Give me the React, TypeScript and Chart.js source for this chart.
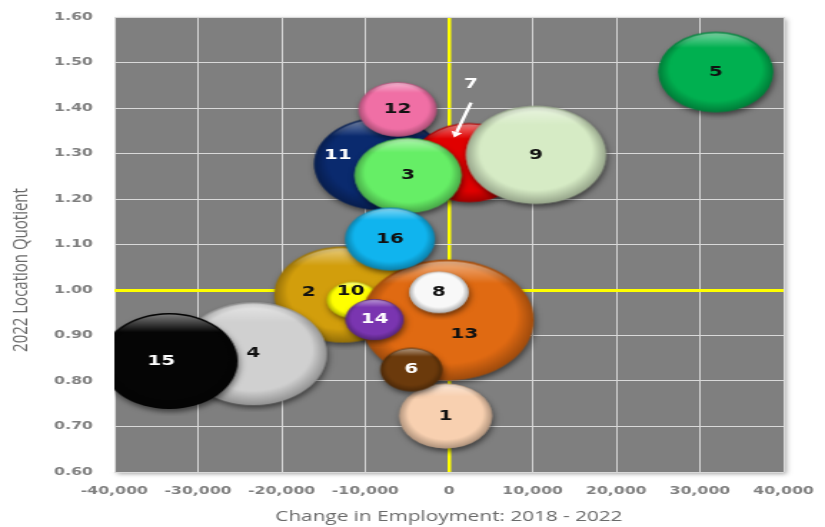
import React, { useEffect, useRef } from 'react';
import { Chart, registerables } from 'chart.js';

Chart.register(...registerables);

// ---- data (listed in drawing order: later bubbles are drawn on top) ----
const bubbleIds = ['2', '4', '15', '10', '13', '14', '8', '1', '6', '11', '12', '7', '9', '3', '16', '5'];
const employmentChange = [-12700, -23400, -33450, -11500, -200, -8900, -1200, -400, -4500, -8250, -6150, 2400, 10400, -4900, -7050, 31900];
const locationQuotient = [0.99, 0.86, 0.844, 0.978, 0.934, 0.935, 0.995, 0.723, 0.825, 1.277, 1.397, 1.28, 1.297, 1.252, 1.112, 1.479];
const bubbleSize = [132, 152, 132, 19, 210, 24, 25, 61, 27, 122, 43, 90, 138, 81, 57, 93];

const xTickValues = [-40000, -30000, -20000, -10000, 0, 10000, 20000, 30000, 40000];
const yTickValues = [0.6, 0.7, 0.8, 0.9, 1.0, 1.1, 1.2, 1.3, 1.4, 1.5, 1.6];

const xTitle = 'Change in Employment: 2018 - 2022';
const yTitle = '2022 Location Quotient';

// ---- styles ----
const bubbleColors: Record<string, string> = {
  '1': '#F8D0B0', '2': '#D29E0C', '3': '#66EE66', '4': '#D0D0D0', '5': '#00B050', '6': '#6B3A0C',
  '7': '#E00000', '8': '#F8F8F8', '9': '#D6EBC5', '10': '#FFFF00', '11': '#0A2A6E', '12': '#F06FA5',
  '13': '#E06A12', '14': '#7A35B0', '15': '#050505', '16': '#10B4EE',
};
const whiteLabels = new Set(['6', '11', '14', '15']);
// label offsets in on-screen pixels
const labelOffsets: Record<string, [number, number]> = {
  '2': [-34, -2], '10': [-2, -9], '13': [17, 14], '11': [-42, -9], '15': [-8, 0],
};

const CSS_W = 825;
const CSS_H = 527;
const CANVAS_W = 577;
const SX = CSS_W / CANVAS_W;

const radiusOf = (size: number) => 59 * Math.sqrt(size / 200);

function makeBall(color: string, r: number): HTMLCanvasElement {
  const pad = 7;
  const size = Math.ceil(2 * r + 2 * pad);
  const c = document.createElement('canvas');
  c.width = size;
  c.height = size;
  const g = c.getContext('2d')!;
  const cx = size / 2;
  const cy = size / 2;
  g.save();
  g.shadowColor = 'rgba(0,0,0,0.5)';
  g.shadowBlur = 5;
  g.shadowOffsetX = 1;
  g.shadowOffsetY = 3;
  g.beginPath();
  g.arc(cx, cy, r, 0, Math.PI * 2);
  g.fillStyle = color;
  g.fill();
  g.restore();
  // darker rim
  const rim = g.createRadialGradient(cx, cy - r * 0.08, r * 0.8, cx, cy, r * 1.02);
  rim.addColorStop(0, 'rgba(0,0,0,0)');
  rim.addColorStop(1, 'rgba(0,0,0,0.32)');
  g.beginPath();
  g.arc(cx, cy, r, 0, Math.PI * 2);
  g.fillStyle = rim;
  g.fill();
  // top highlight
  const hl = g.createLinearGradient(0, cy - r, 0, cy - r * 0.6);
  hl.addColorStop(0, 'rgba(255,255,255,0.5)');
  hl.addColorStop(1, 'rgba(255,255,255,0)');
  g.beginPath();
  g.arc(cx, cy, r * 0.97, 0, Math.PI * 2);
  g.fillStyle = hl;
  g.fill();
  return c;
}

const backgroundPlugin = {
  id: 'plotBackground',
  beforeDraw(chart: any) {
    const { ctx, chartArea: a } = chart;
    ctx.save();
    ctx.fillStyle = '#ffffff';
    ctx.fillRect(0, 0, chart.width, chart.height);
    ctx.shadowColor = 'rgba(0,0,0,0.35)';
    ctx.shadowBlur = 4;
    ctx.shadowOffsetX = 2;
    ctx.shadowOffsetY = 2;
    ctx.fillStyle = '#7F7F7F';
    ctx.fillRect(a.left, a.top, a.right - a.left, a.bottom - a.top);
    ctx.restore();
  },
  beforeDatasetDraw(chart: any) {
    const { ctx, chartArea: a } = chart;
    ctx.save();
    ctx.beginPath();
    ctx.rect(a.left, a.top, a.right - a.left, a.bottom - a.top);
    ctx.clip();
  },
  afterDatasetDraw(chart: any) {
    chart.ctx.restore();
  },
  afterDatasetsDraw(chart: any) {
    // keep the left margin clean where a bubble runs past the plot edge
    const { ctx, chartArea: a } = chart;
    ctx.save();
    ctx.fillStyle = '#ffffff';
    ctx.fillRect(0, a.top, a.left, a.bottom - a.top);
    ctx.restore();
  },
};

const labelPlugin = {
  id: 'bubbleLabels',
  afterDatasetsDraw(chart: any) {
    const { ctx } = chart;
    const meta = chart.getDatasetMeta(0);
    ctx.save();
    ctx.font = 'bold 14px "DejaVu Sans"';
    ctx.textAlign = 'center';
    ctx.textBaseline = 'middle';
    meta.data.forEach((el: any, i: number) => {
      const id = bubbleIds[i];
      if (id === '7') {
        const lx = el.x + 2 / SX;
        const ly = el.y - 78;
        ctx.fillStyle = '#ffffff';
        ctx.fillText(id, lx, ly);
        const x0 = el.x + 2 / SX;
        const y0 = el.y - 60;
        const x1 = el.x - 15 / SX;
        const y1 = el.y - 25;
        ctx.strokeStyle = '#ffffff';
        ctx.lineWidth = 2.5;
        ctx.beginPath();
        ctx.moveTo(x0, y0);
        const ang = Math.atan2(y1 - y0, x1 - x0);
        const hx = x1 - Math.cos(ang) * 6;
        const hy = y1 - Math.sin(ang) * 6;
        ctx.lineTo(hx, hy);
        ctx.stroke();
        ctx.fillStyle = '#ffffff';
        ctx.beginPath();
        ctx.moveTo(x1, y1);
        ctx.lineTo(hx + Math.cos(ang + Math.PI / 2) * 4, hy + Math.sin(ang + Math.PI / 2) * 4);
        ctx.lineTo(hx + Math.cos(ang - Math.PI / 2) * 4, hy + Math.sin(ang - Math.PI / 2) * 4);
        ctx.closePath();
        ctx.fill();
        return;
      }
      const [dx, dy] = labelOffsets[id] || [0, 0];
      ctx.fillStyle = whiteLabels.has(id) ? '#ffffff' : '#111111';
      ctx.fillText(id, el.x + dx / SX, el.y + dy);
    });
    ctx.restore();
  },
  afterDraw(chart: any) {
    const { ctx } = chart;
    ctx.save();
    ctx.translate(21 / SX, 270);
    ctx.rotate(-Math.PI / 2);
    ctx.font = '15px "Open Sans"';
    ctx.fillStyle = '#6A6A6A';
    ctx.textAlign = 'center';
    ctx.textBaseline = 'middle';
    ctx.fillText(yTitle, 0, 0);
    ctx.restore();
  },
};

export default function App() {
  const canvasRef = useRef<HTMLCanvasElement | null>(null);

  useEffect(() => {
    const canvas = canvasRef.current;
    if (!canvas) return;
    const radii = bubbleSize.map(radiusOf);
    const balls = bubbleIds.map((id, i) => makeBall(bubbleColors[id], radii[i]));
    const points = bubbleIds.map((_, i) => ({
      x: employmentChange[i],
      y: locationQuotient[i],
      r: radii[i],
    }));

    const chart = new Chart(canvas, {
      type: 'bubble',
      data: {
        datasets: [
          {
            data: points,
            clip: 0,
            backgroundColor: bubbleIds.map((id) => bubbleColors[id]),
            borderWidth: 0,
            pointStyle: (c: any) => (c.dataIndex !== undefined && balls[c.dataIndex]) || 'circle',
          } as any,
        ],
      },
      options: {
        responsive: false,
        animation: false,
        events: [],
        layout: { autoPadding: false, padding: { top: 17, right: 29, left: 0, bottom: 0 } },
        plugins: {
          legend: { display: false },
          tooltip: { enabled: false },
        },
        scales: {
          x: {
            type: 'linear',
            min: xTickValues[0],
            max: xTickValues[xTickValues.length - 1],
            afterBuildTicks: (s: any) => {
              s.ticks = xTickValues.map((v) => ({ value: v }));
            },
            afterFit: (s: any) => {
              s.height = 55;
              s.paddingLeft = 0;
              s.paddingRight = 0;
            },
            border: { display: false },
            grid: {
              drawTicks: false,
              color: (c: any) => (c.tick && c.tick.value === 0 ? '#FFFF00' : '#D9D9D9'),
              lineWidth: (c: any) => (c.tick && c.tick.value === 0 ? 2.5 : 1),
            },
            ticks: {
              autoSkip: false,
              maxRotation: 0,
              padding: 13,
              z: 1,
              color: '#7F7F7F',
              font: { family: '"DejaVu Sans"', size: 11, weight: 'bold' },
              callback: (v: any) => Number(v).toLocaleString('en-US'),
            },
            title: {
              display: true,
              text: xTitle,
              color: '#6A6A6A',
              font: { family: '"Open Sans"', size: 14.5 },
              padding: { top: 1, bottom: 1 },
            },
          },
          y: {
            type: 'linear',
            min: yTickValues[0],
            max: yTickValues[yTickValues.length - 1],
            afterBuildTicks: (s: any) => {
              s.ticks = yTickValues.map((v) => ({ value: v }));
            },
            afterFit: (s: any) => {
              s.width = 80;
              s.paddingTop = 0;
              s.paddingBottom = 0;
            },
            border: { display: false },
            grid: {
              drawTicks: false,
              color: (c: any) => (c.tick && Math.abs(c.tick.value - 1) < 1e-9 ? '#FFFF00' : '#D9D9D9'),
              lineWidth: (c: any) => (c.tick && Math.abs(c.tick.value - 1) < 1e-9 ? 3 : 1),
            },
            ticks: {
              padding: 15,
              z: 1,
              color: '#7F7F7F',
              font: { family: '"DejaVu Sans"', size: 11, weight: 'bold' },
              callback: (v: any) => Number(v).toFixed(2),
            },
            title: { display: false },
          },
        },
      },
      plugins: [backgroundPlugin, labelPlugin],
    });
    return () => chart.destroy();
  }, []);

  return (
    <div style={{ position: 'absolute', left: 0, top: 0, width: CSS_W, height: CSS_H, background: '#fff' }}>
      <canvas
        ref={canvasRef}
        width={CANVAS_W}
        height={CSS_H}
        style={{ width: `${CSS_W}px`, height: `${CSS_H}px`, display: 'block' }}
      />
    </div>
  );
}
